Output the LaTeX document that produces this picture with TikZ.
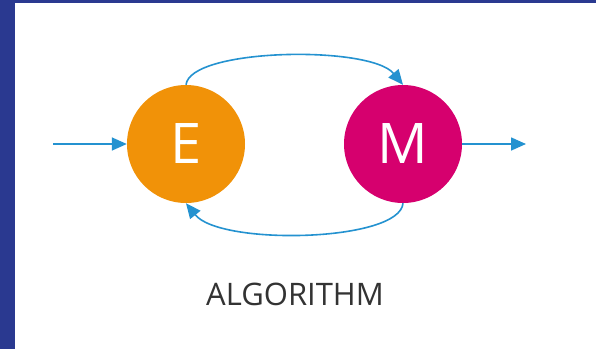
\documentclass[tikz,border=0pt]{standalone}
\usepackage{fontspec}
\setmainfont{Open Sans}
\usetikzlibrary{arrows.meta}
\definecolor{frameblue}{RGB}{42,57,144}
\definecolor{estep}{RGB}{241,146,8}
\definecolor{mstep}{RGB}{214,0,110}
\definecolor{flowblue}{RGB}{36,146,208}
\tikzset{
  stepnode/.style={circle, minimum size=118pt, inner sep=0pt, text=white,
    font=\fontsize{56}{60}\selectfont},
  flow/.style={flowblue, line width=1.6pt, -{Triangle[length=15pt,width=13pt]}}
}

\begin{document}
\begin{tikzpicture}[x=1pt,y=-1pt]
  %%%%% START %%%%%
  \useasboundingbox (0,0) rectangle (596,349);
  \fill[white] (0,0) rectangle (596,349);
  \fill[frameblue] (0,0) rectangle (15,349);
  \fill[frameblue] (0,0) rectangle (596,2.5);

  \node[stepnode, fill=estep] (E) at (186,144) {E};
  \node[stepnode, fill=mstep] (M) at (403,144) {M};

  \coordinate (in) at (53,144);
  \coordinate (out) at (526,144);
  \draw[flow] (in) -- (E);
  \draw[flow] (M) -- (out);

  \draw[flow] (E.north) .. controls (190,48) and (370,45) .. (M.north);
  \draw[flow] (M.south) .. controls (400,242) and (220,246) .. (E.south);

  \node[font=\fontsize{31}{36}\selectfont, text=black!80] (alg) at (295,294) {ALGORITHM};
  %%%%% END %%%%%
\end{tikzpicture}
\end{document}
